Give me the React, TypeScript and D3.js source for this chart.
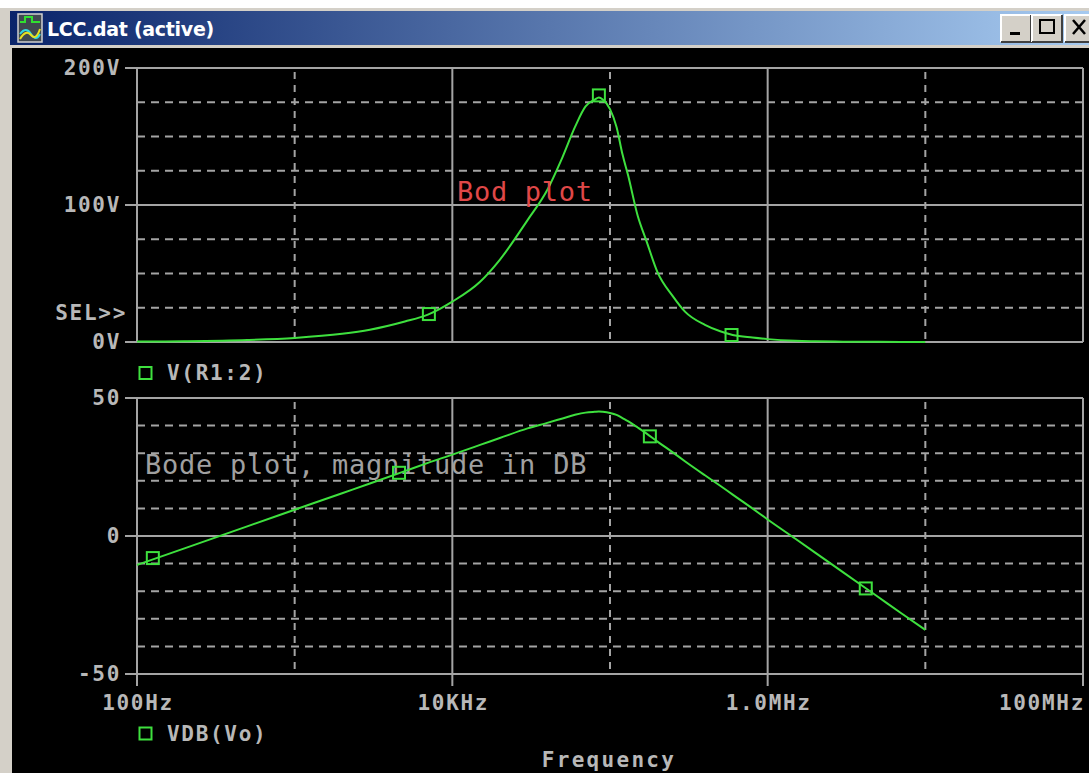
import * as d3 from 'd3'

// sweep frequencies (Hz) and the two traces
const FREQ = [
  100, 200, 500, 1e3, 2e3, 3e3, 5e3, 7e3, 1e4, 1.5e4, 2e4, 3e4, 4e4, 5e4, 6e4, 7e4, 8e4, 8.5e4, 9e4,
  1e5, 1.1e5, 1.2e5, 1.3e5, 1.5e5, 1.7e5, 2e5, 2.5e5, 3e5, 4e5, 5e5, 6e5, 8e5, 1e6, 1.5e6, 2e6, 3e6,
  5e6, 7e6, 1e7,
]
const V_R1 = [
  0.3, 0.6, 1.5, 3, 6, 9, 15, 20, 29.5, 44, 60, 89, 111, 135, 157, 172, 177, 178.5, 177, 170, 157, 137,
  122, 92, 74, 51, 33.5, 22, 12.5, 7.8, 5.1, 3.2, 2.1, 0.9, 0.55, 0.25, 0.1, 0.05, 0.03,
]
const VDB_VO = [
  -10.5, -4.5, 3.5, 9.5, 15.5, 19, 23.5, 26.5, 29.5, 33, 35.5, 39, 41, 42.6, 43.9, 44.7, 45, 45.1, 45,
  44.6, 43.9, 42.7, 41.6, 39.3, 37.2, 34.2, 30.3, 27, 22, 18.2, 15, 10, 6, -1, -6, -13.1,
  -22, -27.9, -34,
]
const TOP_MARKERS: [number, number][] = [[7.1e3, 20.4], [8.5e4, 180], [5.9e5, 5.1]]
const DB_MARKERS: [number, number][] = [[126, -8], [4.59e3, 22.9], [1.79e5, 36.1], [4.19e6, -19]]

const X_MAJOR = [100, 1e4, 1e6, 1e8]
const X_MAJOR_LABELS = ['100Hz', '10KHz', '1.0MHz', '100MHz']
const X_MINOR = [1e3, 1e5, 1e7]
const TOP_MAJOR = [0, 100, 200]
const TOP_MAJOR_LABELS = ['0V', '100V', '200V']
const TOP_MINOR = [25, 50, 75, 125, 150, 175]
const DB_MAJOR = [-50, 0, 50]
const DB_MAJOR_LABELS = ['-50', '0', '50']
const DB_MINOR = [-40, -30, -20, -10, 0, 10, 20, 30, 40]

const W = 1089
const H = 773
const GRID = '#a4a4a4'
const TXT = '#b8b8b8'
const TRACE = '#3ee03e'
const MONO = '"DejaVu Sans Mono", monospace'

const x = d3.scaleLog().domain([100, 1e8]).range([137, 1083])
const yTop = d3.scaleLinear().domain([0, 200]).range([342, 68])
const yDb = d3.scaleLinear().domain([-50, 50]).range([674, 398])

function Marker({ cx, cy }: { cx: number; cy: number }) {
  return <rect x={cx - 6} y={cy - 6} width={12} height={12} fill="none" stroke={TRACE} strokeWidth={2} />
}

function Panel({
  y,
  major,
  majorLabels,
  minor,
  bottomTicks,
}: {
  y: d3.ScaleLinear<number, number>
  major: number[]
  majorLabels: string[]
  minor: number[]
  bottomTicks: boolean
}) {
  const [y0, y1] = y.range()
  const xl = x.range()[0]
  const xr = x.range()[1]
  const ext = bottomTicks ? 12 : 0
  return (
    <g>
      {minor.map((v) => (
        <line key={'hm' + v} x1={xl} x2={xr} y1={y(v)} y2={y(v)} stroke={GRID} strokeWidth={2} strokeDasharray="8 6" />
      ))}
      {X_MINOR.map((f) => (
        <line key={'vm' + f} x1={x(f)} x2={x(f)} y1={y1 + 4} y2={y0} stroke={GRID} strokeWidth={2} strokeDasharray="7 6" />
      ))}
      {major.map((v, i) => (
        <g key={'hM' + v}>
          <line x1={125} x2={xr} y1={y(v)} y2={y(v)} stroke={GRID} strokeWidth={2} />
          <text
            x={121}
            y={y(v)}
            textAnchor="end"
            dominantBaseline="central"
            fill={TXT}
            fontFamily={MONO}
            fontWeight="bold"
            fontSize={21}
            letterSpacing={1.7}
          >
            {majorLabels[i]}
          </text>
        </g>
      ))}
      {X_MAJOR.map((f) => (
        <line key={'vM' + f} x1={x(f)} x2={x(f)} y1={y1} y2={y0 + ext} stroke={GRID} strokeWidth={2} />
      ))}
    </g>
  )
}

export default function App() {
  const line = d3
    .line<number>()
    .x((_, i) => x(FREQ[i]))
    .curve(d3.curveMonotoneX)
  const topPath = line.y((v) => yTop(v))(V_R1) ?? ''
  const dbPath = line.y((v) => yDb(v))(VDB_VO) ?? ''

  return (
    <svg
      width={W}
      height={H}
      style={{ position: 'absolute', left: 0, top: 0, display: 'block' }}
      xmlns="http://www.w3.org/2000/svg"
    >
      <defs>
        <linearGradient id="title" x1="0" x2="1" y1="0" y2="0">
          <stop offset="0" stopColor="#0a246a" />
          <stop offset="1" stopColor="#a6caf0" />
        </linearGradient>
      </defs>
      <rect width={W} height={H} fill="#ffffff" />
      <rect x={0} y={8} width={W} height={H - 8} fill="#d4d0c8" />
      <rect x={10} y={11} width={W - 10} height={34} fill="url(#title)" />
      <rect x={12} y={48} width={W - 12} height={H - 48} fill="#000000" />

      {/* window icon */}
      <g>
        <rect x={18} y={14} width={24} height={28} fill="#404850" stroke="#d0d0d0" strokeWidth={1.5} />
        <path d="M20 22 h5 v-5 h7 v5 h8" fill="none" stroke="#30e030" strokeWidth={2} />
        <path d="M20 34 q6 -8 11 0 t9 0" fill="none" stroke="#30d8e0" strokeWidth={2} />
        <path d="M20 39 q6 -10 11 -4 t9 -6" fill="none" stroke="#e8e020" strokeWidth={2} />
      </g>
      <text x={47} y={36} fill="#ffffff" fontFamily='"DejaVu Sans", sans-serif' fontWeight="bold" fontSize={19} letterSpacing={-0.3}>
        LCC.dat (active)
      </text>

      {/* window buttons */}
      {[1001, 1032, 1065].map((bx, i) => (
        <g key={bx}>
          <rect x={bx} y={15} width={30} height={27} fill="#d4d0c8" />
          <path d={`M${bx} ${42} V15 H${bx + 30}`} fill="none" stroke="#ffffff" strokeWidth={2} />
          <path d={`M${bx} ${42} H${bx + 30} V15`} fill="none" stroke="#404040" strokeWidth={2} />
          {i === 0 && <rect x={bx + 9} y={32} width={10} height={3} fill="#000" />}
          {i === 1 && (
            <rect x={bx + 8} y={20} width={14} height={13} fill="none" stroke="#000" strokeWidth={2} />
          )}
          {i === 2 && (
            <path d={`M${bx + 8} 20 L${bx + 20} 34 M${bx + 20} 20 L${bx + 8} 34`} stroke="#000" strokeWidth={2.5} />
          )}
        </g>
      ))}

      {/* upper plot: V(R1:2) */}
      <Panel y={yTop} major={TOP_MAJOR} majorLabels={TOP_MAJOR_LABELS} minor={TOP_MINOR} bottomTicks={false} />
      <path d={topPath} fill="none" stroke={TRACE} strokeWidth={2} />
      {TOP_MARKERS.map(([f, v]) => (
        <Marker key={f} cx={x(f)} cy={yTop(v)} />
      ))}
      <text x={127} y={313} textAnchor="end" dominantBaseline="central" fill={TXT} fontFamily={MONO} fontWeight="bold" fontSize={21} letterSpacing={1.7}>
        SEL&gt;&gt;
      </text>
      <text x={457} y={201} fill="#e04848" fontFamily={MONO} fontSize={27} letterSpacing={0.7}>
        Bod plot
      </text>
      <Marker cx={145.5} cy={373} />
      <text x={167} y={373} dominantBaseline="central" fill={TXT} fontFamily={MONO} fontWeight="bold" fontSize={21} letterSpacing={1.7}>
        V(R1:2)
      </text>

      {/* lower plot: VDB(Vo) */}
      <Panel y={yDb} major={DB_MAJOR} majorLabels={DB_MAJOR_LABELS} minor={DB_MINOR} bottomTicks={true} />
      <text x={145} y={474} fill="#a0a0a0" fontFamily={MONO} fontSize={27} letterSpacing={0.75}>
        Bode plot, magnitude in DB
      </text>
      <path d={dbPath} fill="none" stroke={TRACE} strokeWidth={2} />
      {DB_MARKERS.map(([f, v]) => (
        <Marker key={f} cx={x(f)} cy={yDb(v)} />
      ))}

      {X_MAJOR.map((f, i) => (
        <text
          key={f}
          x={i === X_MAJOR.length - 1 ? x(f) + 2 : x(f) + 1}
          y={703}
          textAnchor={i === X_MAJOR.length - 1 ? 'end' : 'middle'}
          dominantBaseline="central"
          fill={TXT}
          fontFamily={MONO}
          fontWeight="bold"
          fontSize={21}
          letterSpacing={1.7}
        >
          {X_MAJOR_LABELS[i]}
        </text>
      ))}
      <Marker cx={145.5} cy={733.5} />
      <text x={167} y={733.5} dominantBaseline="central" fill={TXT} fontFamily={MONO} fontWeight="bold" fontSize={21} letterSpacing={1.7}>
        VDB(Vo)
      </text>
      <text x={609} y={760} textAnchor="middle" dominantBaseline="central" fill={TXT} fontFamily={MONO} fontWeight="bold" fontSize={21} letterSpacing={2.3}>
        Frequency
      </text>
    </svg>
  )
}
